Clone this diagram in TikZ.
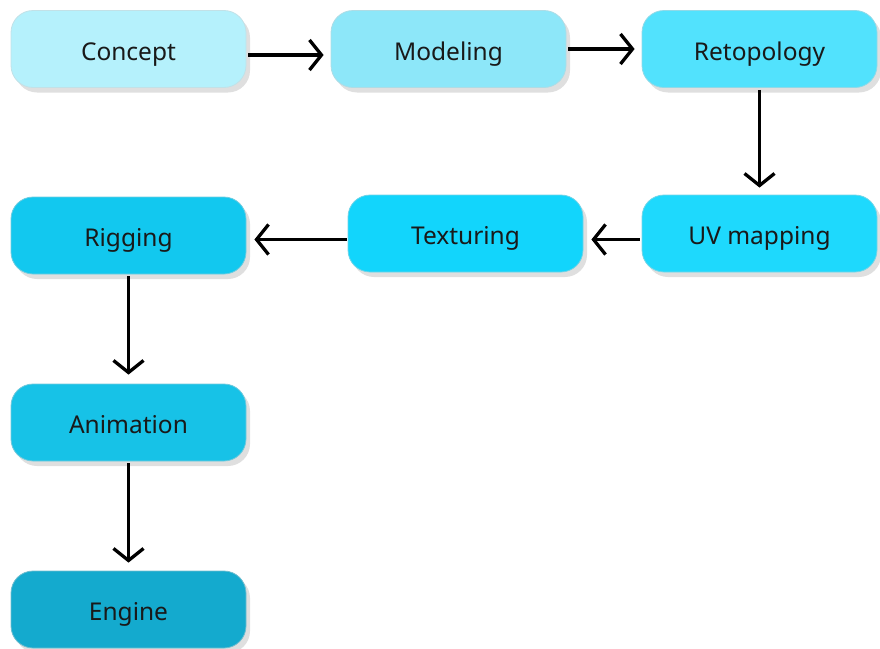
\documentclass[tikz,border=0pt]{standalone}
\usepackage{fontspec}
\setmainfont{Noto Sans}
\usetikzlibrary{arrows.meta,shadows}
\definecolor{cA}{HTML}{B5F1FC}
\definecolor{cB}{HTML}{8DE7F9}
\definecolor{cC}{HTML}{52E2FD}
\definecolor{cD}{HTML}{1ED9FD}
\definecolor{cE}{HTML}{12D5FC}
\definecolor{cF}{HTML}{12C8EF}
\definecolor{cG}{HTML}{17C2E7}
\definecolor{cH}{HTML}{14AACE}
\begin{document}
\begin{tikzpicture}[x=1pt,y=-1pt,
  stage/.style={draw=#1!85!black!60!white, line width=0.8pt, fill=#1, rounded corners=22pt,
    minimum width=235pt, minimum height=77pt, inner sep=0pt,
    text height=24pt, text depth=2pt,
    font=\fontsize{24.5}{28}\selectfont, text=black!90,
    drop shadow={opacity=0.25, shadow xshift=4pt, shadow yshift=-5pt}},
  flow/.style={line width=3.3pt, -{Straight Barb[length=12pt,width=30pt,line width=3.3pt]}}]
\useasboundingbox (0,0) rectangle (880,648);
\node[stage=cA] (concept) at (128.5,49) {Concept};
\node[stage=cB] (model) at (448.5,49) {Modeling};
\node[stage=cC] (retopo) at (759.5,49) {Retopology};
\node[stage=cD] (uv) at (759.5,233.5) {UV mapping};
\node[stage=cE] (tex) at (465.5,233.5) {Texturing};
\node[stage=cF] (rig) at (128.5,235.5) {Rigging};
\node[stage=cG] (anim) at (128.5,422.5) {Animation};
\node[stage=cH] (engine) at (128.5,609.5) {Engine};
\draw[flow] ([xshift=2pt,yshift=-6pt]concept.east) -- ([xshift=-7pt,yshift=-6pt]model.west);
\draw[flow] ([xshift=2pt]model.east) -- ([xshift=-7pt]retopo.west);
\draw[flow] ([yshift=-2pt]retopo.south) -- ([yshift=7pt]uv.north);
\draw[flow] ([xshift=-2pt,yshift=-6pt]uv.west) -- ([xshift=8pt,yshift=-6pt]tex.east);
\draw[flow] ([xshift=-1pt,yshift=-6pt]tex.west) -- ([xshift=8pt,yshift=-4pt]rig.east);
\draw[flow] ([yshift=-2pt]rig.south) -- ([yshift=9pt]anim.north);
\draw[flow] ([yshift=-2pt]anim.south) -- ([yshift=8pt]engine.north);
\end{tikzpicture}
\end{document}
